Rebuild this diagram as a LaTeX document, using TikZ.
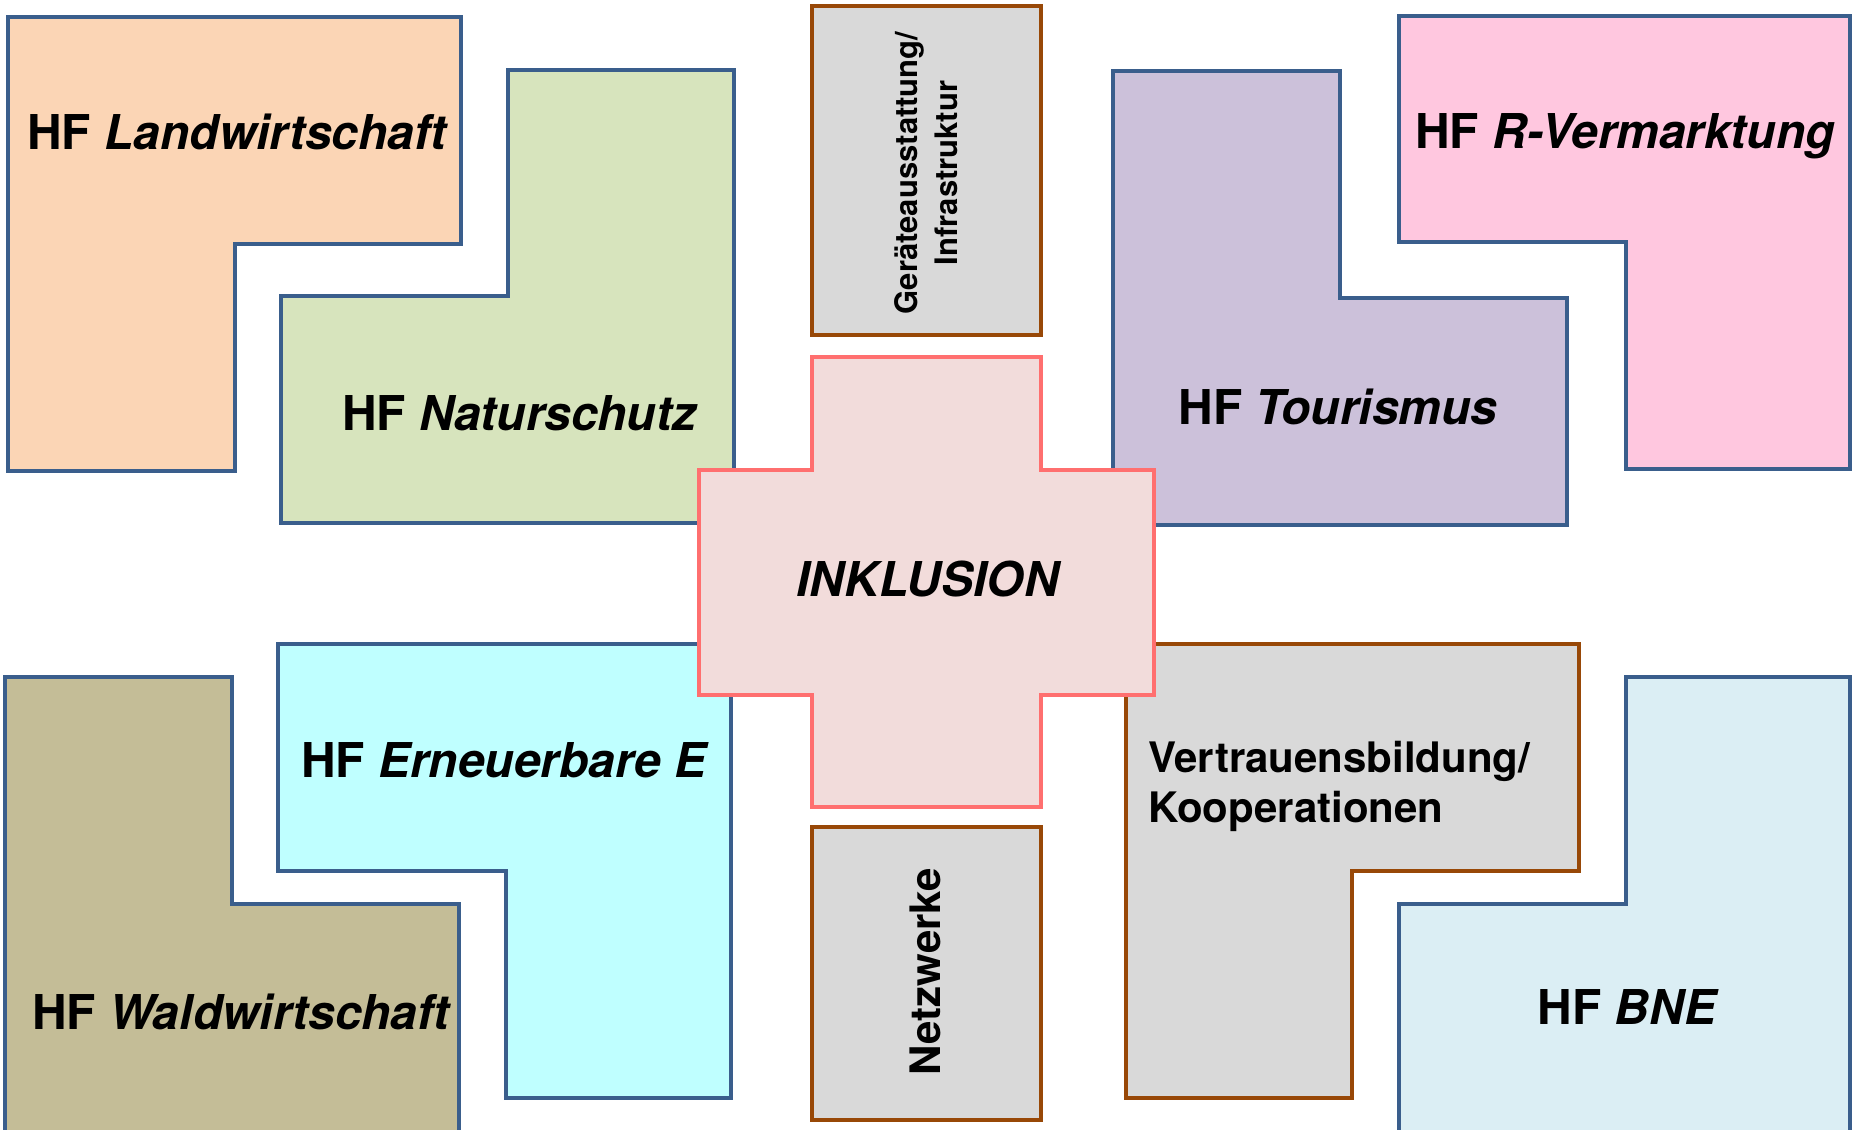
\documentclass[tikz,border=0pt]{standalone}
\usepackage{fontspec}
\setmainfont{TeX Gyre Heros}
\definecolor{hfblue}{HTML}{3A5E8C}
\definecolor{hfbrown}{HTML}{984807}
\definecolor{crossred}{HTML}{FF6F6F}
\definecolor{cpeach}{HTML}{FBD5B5}
\definecolor{cgreen}{HTML}{D7E4BD}
\definecolor{cgrey}{HTML}{D9D9D9}
\definecolor{cross}{HTML}{F2DCDB}
\definecolor{clilac}{HTML}{CCC1DA}
\definecolor{cpink}{HTML}{FFC7DF}
\definecolor{ckhaki}{HTML}{C4BD97}
\definecolor{ccyan}{HTML}{BFFFFF}
\definecolor{clblue}{HTML}{DBEEF4}
\begin{document}
\begin{tikzpicture}[x=0.5pt,y=-0.5pt,line join=miter,
  hfshape/.style={draw=hfblue,line width=2pt},
  brshape/.style={draw=hfbrown,line width=2pt,fill=cgrey},
  crshape/.style={draw=crossred,line width=2pt,fill=cross},
  lbl/.style={font=\bfseries\fontsize{24}{28}\selectfont,inner sep=0pt,anchor=base},
  midlbl/.style={font=\bfseries\fontsize{21}{25}\selectfont,inner sep=0pt}]
\useasboundingbox (0,0) rectangle (1853,1130);
% top-left
\draw[hfshape,fill=cpeach] (8,17) -- (461,17) -- (461,244) -- (235,244) -- (235,471) -- (8,471) -- cycle;
\draw[hfshape,fill=cgreen] (508,70) -- (734,70) -- (734,523) -- (281,523) -- (281,296) -- (508,296) -- cycle;
% top-right
\draw[hfshape,fill=clilac] (1113,71) -- (1340,71) -- (1340,298) -- (1567,298) -- (1567,525) -- (1113,525) -- cycle;
\draw[hfshape,fill=cpink] (1399,16) -- (1850,16) -- (1850,469) -- (1626,469) -- (1626,242) -- (1399,242) -- cycle;
% bottom-left
\draw[hfshape,fill=ckhaki] (5,677) -- (232,677) -- (232,904) -- (459,904) -- (459,1140) -- (5,1140) -- cycle;
\draw[hfshape,fill=ccyan] (278,644) -- (731,644) -- (731,1098) -- (506,1098) -- (506,871) -- (278,871) -- cycle;
% bottom-right
\draw[brshape] (1126,644) -- (1579,644) -- (1579,871) -- (1352,871) -- (1352,1098) -- (1126,1098) -- cycle;
\draw[hfshape,fill=clblue] (1626,677) -- (1850,677) -- (1850,1140) -- (1399,1140) -- (1399,904) -- (1626,904) -- cycle;
% middle column boxes
\draw[brshape] (812,6) rectangle (1041,335);
\draw[brshape] (812,827) rectangle (1041,1120);
% cross
\draw[crshape] (812,357) -- (1041,357) -- (1041,470) -- (1154,470) -- (1154,695) -- (1041,695) -- (1041,807) -- (812,807) -- (812,695) -- (699,695) -- (699,470) -- (812,470) -- cycle;
% labels
\node[lbl] (land) at (238,149) {HF \textit{Landwirtschaft}};
\node[lbl] (natur) at (520,430) {HF \textit{Naturschutz}};
\node[lbl] (tour) at (1338,424) {HF \textit{Tourismus}};
\node[lbl] (verm) at (1625,148) {HF \textit{R-Vermarktung}};
\node[lbl] (erne) at (505,777) {HF \textit{Erneuerbare E}};
\node[lbl] (wald) at (242,1029) {HF \textit{Waldwirtschaft}};
\node[lbl] (bne) at (1628,1024) {HF \textit{BNE}};
\node[lbl] (inkl) at (929,596) {\textit{INKLUSION}};
\node[midlbl,anchor=base west,align=left] (vert) at (1148,822) {Vertrauensbildung/\\Kooperationen};
\node[font=\bfseries\fontsize{15.5}{20}\selectfont,inner sep=0pt,rotate=90,align=center] (geraete) at (926,173) {Geräteausstattung/\\Infrastruktur};
\node[midlbl,rotate=90] (netz) at (925,972) {Netzwerke};
\end{tikzpicture}
\end{document}
